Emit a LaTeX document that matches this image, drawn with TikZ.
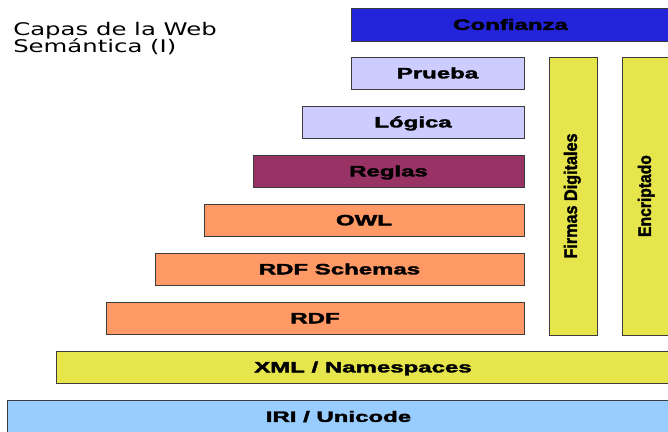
\documentclass[tikz,border=0pt]{standalone}
\usepackage{fontspec}
\setmainfont{Liberation Sans}
\newfontfamily\titlefont{DejaVu Sans}
\newfontfamily\labfont{Liberation Sans Bold}[FakeBold=2]
\definecolor{cBlue}{HTML}{2323DA}
\definecolor{cLav}{HTML}{CCCCFF}
\definecolor{cPlum}{HTML}{993366}
\definecolor{cOrange}{HTML}{FF9966}
\definecolor{cYellow}{HTML}{E6E64C}
\definecolor{cSky}{HTML}{99CCFF}
\definecolor{cEdge}{HTML}{3C3C3C}
\newcommand\hlab[1]{\scalebox{1.6}[1]{#1}}
\newcommand\vlab[3]{\raisebox{#1}{\scalebox{#2}[1]{\fontsize{18}{18}\selectfont #3}}}
\begin{document}
\begin{tikzpicture}[x=1pt,y=-1pt,
  layer/.style={draw=cEdge, line width=0.7pt, inner sep=0pt, outer sep=0pt,
    text height=10.7pt, text depth=0pt,
    font=\labfont\fontsize{15}{15}\selectfont},
  hbox/.style={layer, minimum height=32pt},
  vbox/.style={layer, rotate=90, minimum height=48pt, minimum width=278pt, text height=12.9pt},
  titletext/.style={anchor=base west, inner sep=0pt, xscale=1.4, transform shape,
    font=\titlefont\fontsize{17.4}{17.4}\selectfont}
]
\useasboundingbox (0,0) rectangle (668,431);
\node[titletext] (t1) at (13,35.5) {Capas de la Web};
\node[titletext] (t2) at (13,52) {Semántica (I)};
\node[hbox, fill=cBlue, minimum width=319pt, minimum height=33pt] (conf) at (510.5,24.5) {\hlab{Confianza}};
\node[hbox, fill=cLav, minimum width=173pt] (prueba) at (437.5,73) {\hlab{Prueba}};
\node[hbox, fill=cLav, minimum width=222pt] (logica) at (413,122) {\hlab{Lógica}};
\node[hbox, fill=cPlum, minimum width=271pt] (reglas) at (388.5,171) {\hlab{Reglas}};
\node[hbox, fill=cOrange, minimum width=320pt] (owl) at (364,220) {\hlab{OWL}};
\node[hbox, fill=cOrange, minimum width=369pt] (rdfs) at (339.5,269) {\hlab{RDF Schemas}};
\node[hbox, fill=cOrange, minimum width=418pt] (rdf) at (315,318) {\hlab{RDF}};
\node[hbox, fill=cYellow, minimum width=614pt] (xml) at (363,367) {\hlab{XML / Namespaces}};
\node[hbox, fill=cSky, minimum width=663pt, minimum height=33pt] (iri) at (338.5,416.5) {\hlab{IRI / Unicode}};
\node[vbox, fill=cYellow] (firmas) at (573,196) {\vlab{2.5pt}{0.9}{Firmas Digitales}};
\node[vbox, fill=cYellow] (encr) at (646,196) {\vlab{1.5pt}{0.87}{Encriptado}};
\end{tikzpicture}
\end{document}
